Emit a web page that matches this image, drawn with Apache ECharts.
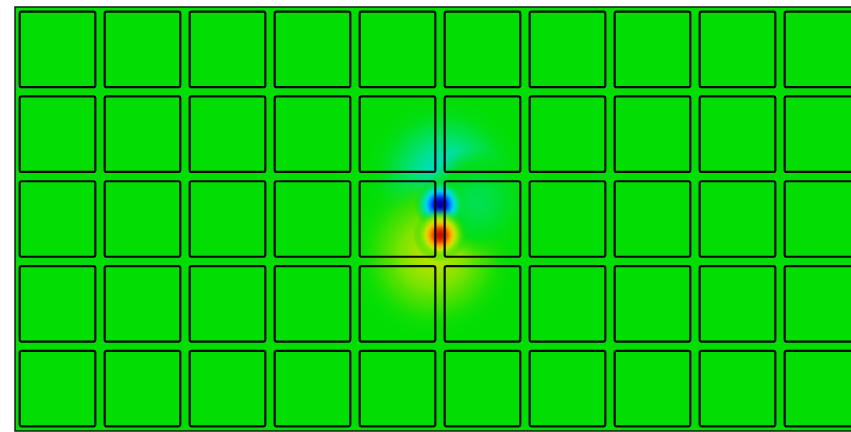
<!DOCTYPE html>
<html>
<head>
<meta charset="utf-8">
<style>
  html, body { margin: 0; padding: 0; background: #ffffff; }
  #chart { width: 851px; height: 432px; }
</style>
<script src="https://cdn.jsdelivr.net/npm/echarts@6/dist/echarts.min.js"></script>
</head>
<body>
<div id="chart"></div>
<script>
// Tile layout: 10 columns x 5 rows of square cells (cell units)
const tileColumns = [0, 1, 2, 3, 4, 5, 6, 7, 8, 9];
const tileRows = [0, 1, 2, 3, 4];

// Field sources (cell units): centre x, centre y, spread, field value (-1 .. 1)
const sourceX      = [5.05, 4.92, 5.45, 5.00, 5.00];
const sourceY      = [2.00, 2.92, 2.30, 2.33, 2.69];
const sourceSpread = [0.95, 1.00, 0.65, 0.31, 0.32];
const sourceValue  = [-0.34, 0.34, -0.12, -1.0, 1.0];

// Rainbow colour scale: blue (negative) - green (zero) - red (positive)
const scaleStops = [
  [-1.0, [0, 0, 170]],
  [-0.8, [0, 40, 255]],
  [-0.6, [0, 140, 255]],
  [-0.4, [0, 215, 235]],
  [-0.2, [0, 226, 130]],
  [ 0.0, [2, 222, 4]],
  [ 0.2, [120, 228, 0]],
  [ 0.4, [210, 226, 0]],
  [ 0.6, [250, 170, 0]],
  [ 0.8, [240, 80, 0]],
  [ 1.0, [200, 12, 0]]
];

function scaleColor(v, alpha) {
  v = Math.max(-1, Math.min(1, v));
  for (let i = 0; i < scaleStops.length - 1; i++) {
    const a = scaleStops[i], b = scaleStops[i + 1];
    if (v <= b[0]) {
      const t = (v - a[0]) / (b[0] - a[0]);
      const c = a[1].map((ca, k) => Math.round(ca + (b[1][k] - ca) * t));
      return 'rgba(' + c[0] + ',' + c[1] + ',' + c[2] + ',' + alpha + ')';
    }
  }
  const c = scaleStops[scaleStops.length - 1][1];
  return 'rgba(' + c[0] + ',' + c[1] + ',' + c[2] + ',' + alpha + ')';
}

// Gaussian fall-off from the source value to zero at the rim
function sourceGradient(v) {
  const stops = [];
  const n = 24;
  for (let k = 0; k <= n; k++) {
    const o = k / n;
    const f = Math.exp(-(o / 0.55) * (o / 0.55));
    const alpha = Math.min(1, (1 - o) / 0.35);
    stops.push({ offset: o, color: scaleColor(v * f, alpha.toFixed(3)) });
  }
  return { type: 'radial', x: 0.5, y: 0.5, r: 0.5, colorStops: stops, global: false };
}

const sourceData = sourceX.map((x, i) => [x, sourceY[i], sourceSpread[i], sourceValue[i]]);
const tileData = [];
tileRows.forEach(r => tileColumns.forEach(c => tileData.push([c, r])));

const chart = echarts.init(document.getElementById('chart'), null, { renderer: 'canvas' });

chart.setOption({
  animation: false,
  grid: {
    left: 15, top: 7, width: 850, height: 424,
    outerBoundsMode: 'none',
    containLabel: false,
    show: true,
    backgroundColor: scaleColor(0, 1),
    borderColor: '#1a1a1a',
    borderWidth: 1.5
  },
  xAxis: { type: 'value', min: 0, max: 10, show: false },
  yAxis: { type: 'value', min: 0, max: 5, inverse: true, show: false },
  series: [
    {
      type: 'custom',
      name: 'field',
      clip: true,
      data: sourceData,
      renderItem: function (params, api) {
        const c = api.coord([api.value(0), api.value(1)]);
        const r = api.size([api.value(2), 0])[0];
        return {
          type: 'circle',
          shape: { cx: c[0], cy: c[1], r: r },
          style: { fill: sourceGradient(api.value(3)), stroke: null }
        };
      }
    },
    {
      type: 'custom',
      name: 'tiles',
      clip: true,
      data: tileData,
      renderItem: function (params, api) {
        const inset = 0.055;
        const p0 = api.coord([api.value(0) + inset, api.value(1) + inset]);
        const p1 = api.coord([api.value(0) + 1 - inset, api.value(1) + 1 - inset]);
        return {
          type: 'rect',
          shape: { x: p0[0], y: p0[1], width: p1[0] - p0[0], height: p1[1] - p0[1], r: 2 },
          style: { fill: null, stroke: '#0a0a0a', lineWidth: 2.2 }
        };
      }
    }
  ]
});
</script>
</body>
</html>
